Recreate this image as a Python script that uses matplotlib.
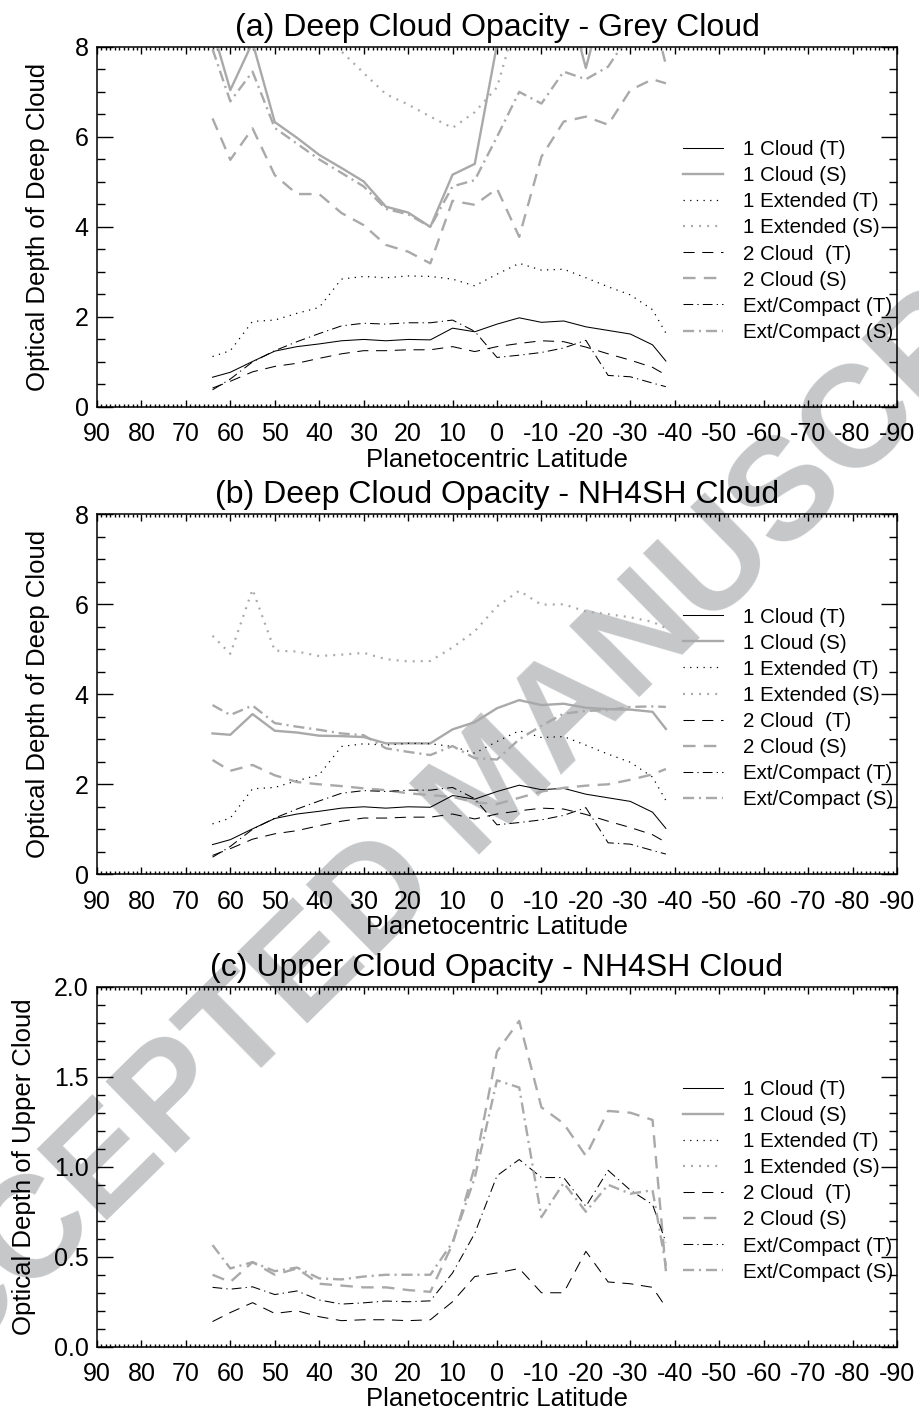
import matplotlib
matplotlib.use('Agg')
import matplotlib.pyplot as plt
from matplotlib.lines import Line2D
from matplotlib.ticker import MultipleLocator

plt.rcParams['font.family'] = ['Liberation Sans', 'DejaVu Sans']
plt.rcParams['axes.unicode_minus'] = False
plt.rcParams['lines.scale_dashes'] = False

# latitude grid of the retrievals
lat = [64, 60, 55, 50, 45, 40, 35, 30, 25, 20, 15, 10, 5, 0,
       -5, -10, -15, -20, -25, -30, -35, -38]

# T models (same deep cloud in a and b)
cloud1_t = [0.66, 0.77, 1.01, 1.24, 1.34, 1.40, 1.47, 1.50, 1.47, 1.50, 1.49,
            1.75, 1.67, 1.84, 1.98, 1.88, 1.91, 1.78, 1.70, 1.62, 1.38, 1.02]
ext1_t = [1.12, 1.25, 1.90, 1.93, 2.08, 2.21, 2.84, 2.90, 2.87, 2.91, 2.90,
          2.84, 2.69, 2.95, 3.19, 3.04, 3.06, 2.87, 2.67, 2.49, 2.16, 1.64]
cloud2_t = [0.42, 0.57, 0.78, 0.90, 0.97, 1.08, 1.18, 1.25, 1.25, 1.27, 1.27,
            1.34, 1.23, 1.34, 1.41, 1.47, 1.45, 1.33, 1.18, 1.04, 0.88, 0.71]
extc_t = [0.38, 0.62, 1.00, 1.25, 1.45, 1.63, 1.80, 1.86, 1.84, 1.87, 1.87,
          1.93, 1.68, 1.10, 1.15, 1.21, 1.31, 1.48, 0.70, 0.67, 0.53, 0.45]

# (a) grey cloud, S models
cloud1_s_a = [8.4, 7.04, 8.1, 6.33, 5.98, 5.6, 5.31, 5.01, 4.45, 4.32, 4.0,
              5.16, 5.4, 8.05, 9.0, 9.2, 9.4, 7.53, 9.4, 9.5, 9.5, 9.2]
ext1_s_a = [9.8, 9.6, 9.4, 9.0, 8.7, 8.3, 7.9, 7.42, 6.95, 6.72, 6.45,
            6.2, 6.55, 7.1, 8.8, 9.2, 9.4, 9.5, 9.5, 9.5, 9.4, 9.3]
cloud2_s_a = [6.41, 5.49, 6.19, 5.15, 4.73, 4.73, 4.31, 4.04, 3.6, 3.45, 3.19,
              4.58, 4.49, 4.85, 3.78, 5.56, 6.34, 6.45, 6.27, 7.04, 7.28, 7.19]
extc_s_a = [7.95, 6.79, 7.45, 6.2, 5.85, 5.5, 5.2, 4.9, 4.4, 4.28, 4.0,
            4.9, 5.04, 6.0, 7.0, 6.74, 7.45, 7.28, 7.56, 8.3, 8.8, 7.6]

# (b) NH4SH deep cloud, S models
cloud1_s_b = [3.13, 3.10, 3.56, 3.19, 3.15, 3.08, 3.07, 3.05, 2.91, 2.91, 2.91,
              3.22, 3.38, 3.69, 3.87, 3.76, 3.79, 3.70, 3.67, 3.66, 3.61, 3.23]
ext1_s_b = [5.30, 4.90, 6.33, 4.97, 4.95, 4.85, 4.88, 4.92, 4.78, 4.73, 4.74,
            5.04, 5.40, 5.95, 6.30, 5.99, 6.00, 5.84, 5.78, 5.71, 5.61, 5.47]
cloud2_s_b = [2.54, 2.30, 2.43, 2.20, 2.05, 2.00, 1.96, 1.91, 1.87, 1.80, 1.76,
              1.72, 1.60, 1.56, 1.70, 1.84, 1.92, 1.97, 2.00, 2.10, 2.22, 2.34]
extc_s_b = [3.76, 3.54, 3.75, 3.36, 3.28, 3.21, 3.13, 3.09, 2.80, 2.72, 2.65,
            2.85, 2.58, 2.55, 3.00, 3.30, 3.57, 3.63, 3.65, 3.72, 3.73, 3.72]

# (c) upper cloud, only the two-cloud models have one
cloud2_t_c = [0.14, 0.19, 0.245, 0.185, 0.20, 0.167, 0.145, 0.15, 0.15, 0.145, 0.15,
              0.25, 0.39, 0.41, 0.435, 0.30, 0.30, 0.53, 0.36, 0.35, 0.33, 0.22]
extc_t_c = [0.33, 0.32, 0.333, 0.29, 0.31, 0.26, 0.237, 0.244, 0.254, 0.25, 0.255,
            0.41, 0.63, 0.95, 1.04, 0.94, 0.94, 0.78, 0.98, 0.87, 0.79, 0.58]
cloud2_s_c = [0.40, 0.36, 0.47, 0.40, 0.435, 0.35, 0.34, 0.33, 0.33, 0.315, 0.305,
              0.57, 1.00, 1.64, 1.81, 1.33, 1.24, 1.06, 1.31, 1.30, 1.26, 0.42]
extc_s_c = [0.565, 0.435, 0.47, 0.42, 0.44, 0.38, 0.374, 0.39, 0.40, 0.40, 0.40,
            0.58, 0.94, 1.48, 1.44, 0.72, 0.91, 0.75, 0.90, 0.85, 0.87, 0.45]

labels = ['1 Cloud (T)', '1 Cloud (S)', '1 Extended (T)', '1 Extended (S)',
          '2 Cloud  (T)', '2 Cloud (S)', 'Ext/Compact (T)', 'Ext/Compact (S)']

grey = '#a9a9a9'
styles = [
    dict(color='black', lw=0.75, ls='-'),
    dict(color=grey, lw=1.7, ls='-'),
    dict(color='black', lw=0.9, ls=(0, (0.9, 3.9))),
    dict(color=grey, lw=1.6, ls=(0, (1.4, 4.4))),
    dict(color='black', lw=0.75, ls=(0, (8, 5.5))),
    dict(color=grey, lw=1.7, ls=(0, (9, 6))),
    dict(color='black', lw=0.75, ls=(0, (7, 3, 0.9, 3))),
    dict(color=grey, lw=1.7, ls=(0, (8, 3.5, 1.5, 3.5))),
]

panels = [
    ('(a) Deep Cloud Opacity - Grey Cloud', 'Optical Depth of Deep Cloud', 8,
     [cloud1_t, cloud1_s_a, ext1_t, ext1_s_a, cloud2_t, cloud2_s_a, extc_t, extc_s_a]),
    ('(b) Deep Cloud Opacity - NH4SH Cloud', 'Optical Depth of Deep Cloud', 8,
     [cloud1_t, cloud1_s_b, ext1_t, ext1_s_b, cloud2_t, cloud2_s_b, extc_t, extc_s_b]),
    ('(c) Upper Cloud Opacity - NH4SH Cloud', 'Optical Depth of Upper Cloud', 2,
     [None, None, None, None, cloud2_t_c, cloud2_s_c, extc_t_c, extc_s_c]),
]

fig = plt.figure(figsize=(9.2, 14.12), dpi=100)
fig.text(0.535, 0.441, 'ACCEPTED MANUSCRIPT', rotation=44.5, fontsize=104,
         weight='bold', color='#c6c7c9', ha='center', va='center',
         rotation_mode='anchor', zorder=-5)

bottoms = [0.7118, 0.3808, 0.0462]
for (title, ylab, ymax, series), b in zip(panels, bottoms):
    ax = fig.add_axes([0.1054, b, 0.8696, 0.255])
    ax.set_facecolor('none')
    for vals, st in zip(series, styles):
        if vals is not None:
            ax.plot(lat, vals, **st)
    ax.set_xlim(90, -90)
    ax.set_ylim(0, ymax)
    ax.xaxis.set_major_locator(MultipleLocator(10))
    ax.xaxis.set_minor_locator(MultipleLocator(1))
    if ymax == 8:
        ax.yaxis.set_major_locator(MultipleLocator(2))
        ax.yaxis.set_minor_locator(MultipleLocator(0.5))
        ylpad = 18
    else:
        ax.yaxis.set_major_locator(MultipleLocator(0.5))
        ax.yaxis.set_minor_locator(MultipleLocator(0.1))
        ax.yaxis.set_major_formatter(matplotlib.ticker.FormatStrFormatter('%.1f'))
        ylpad = 13
    ax.tick_params(which='both', direction='in', top=True, right=True,
                   labelsize=18, width=1)
    ax.tick_params(axis='x', which='major', length=5, pad=11)
    ax.tick_params(axis='x', which='minor', length=2.5)
    ax.tick_params(axis='y', which='major', length=11.5, pad=6)
    ax.tick_params(axis='y', which='minor', length=5.5)
    for sp in ax.spines.values():
        sp.set_linewidth(1.1)
    ax.set_title(title, fontsize=23, pad=8)
    ax.set_xlabel('Planetocentric Latitude', fontsize=18.5, labelpad=1)
    ax.set_ylabel(ylab, fontsize=18.5, labelpad=ylpad)
    handles = [Line2D([], [], **st) for st in styles]
    ax.legend(handles, labels, loc='upper left', bbox_to_anchor=(0.7325, 0.741),
              frameon=False, fontsize=14.8, handlelength=1.95, handletextpad=0.97,
              labelspacing=0.345, borderpad=0, borderaxespad=0)

fig.savefig('out.png', dpi=100)
